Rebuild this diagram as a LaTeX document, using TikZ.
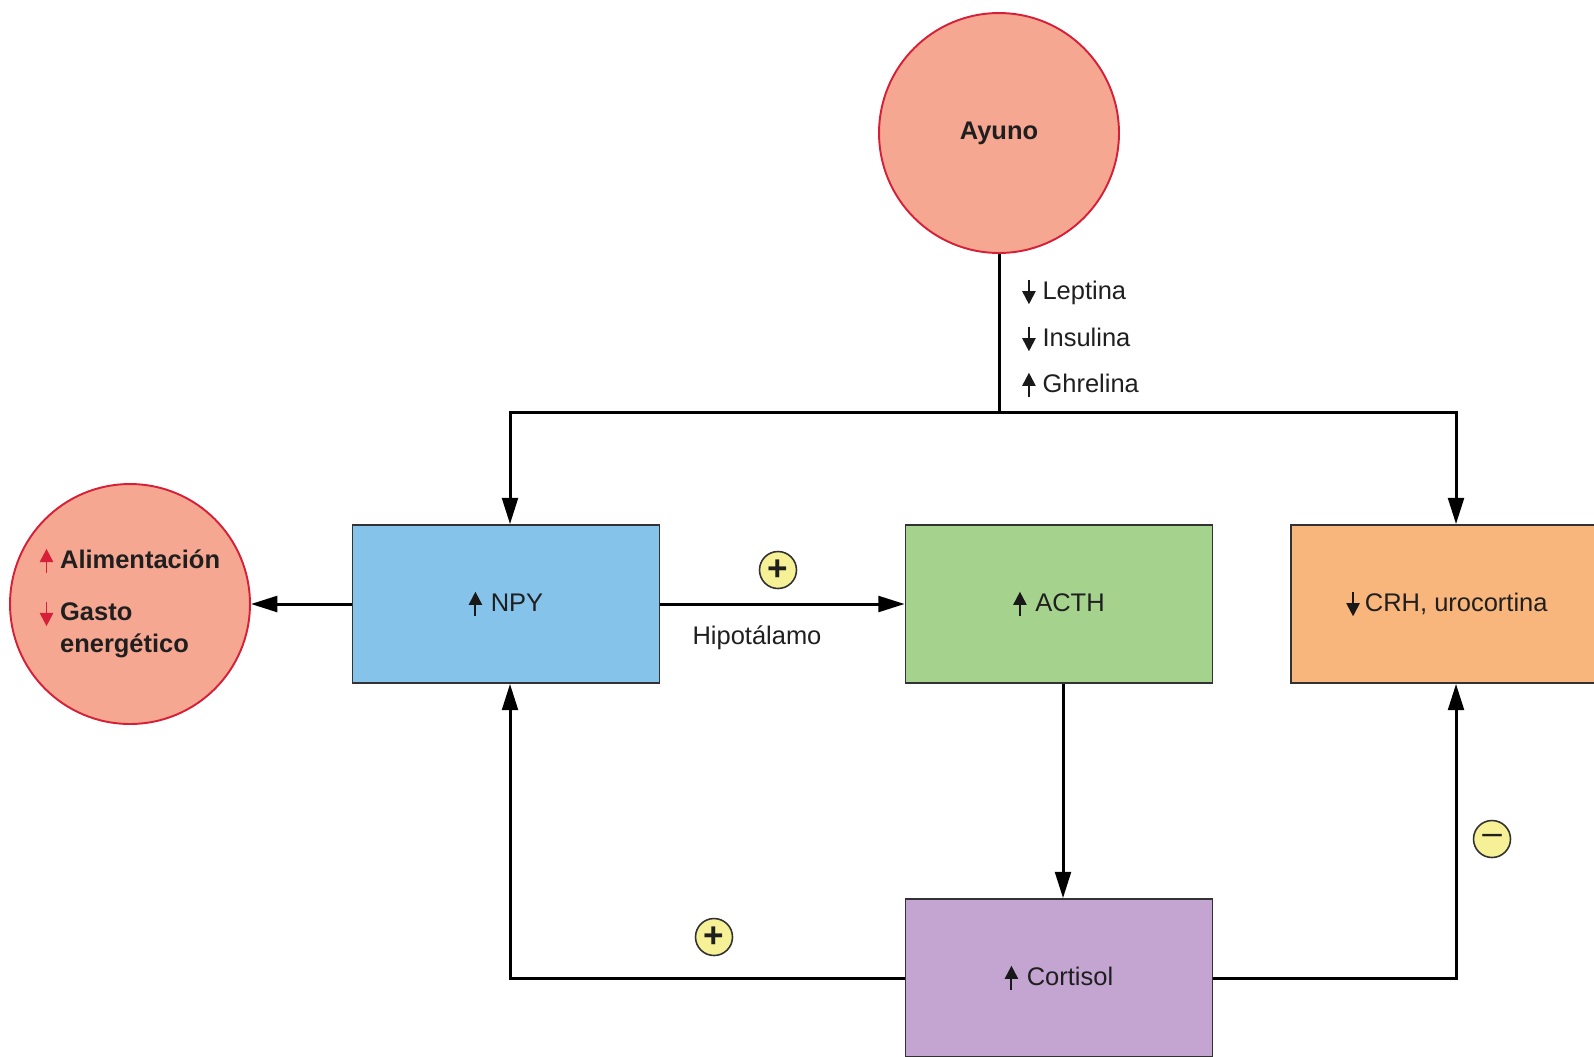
\documentclass[tikz,border=0pt]{standalone}
\usepackage{fontspec}
\setmainfont{Liberation Sans}
\usetikzlibrary{arrows.meta,calc}
\definecolor{CircFill}{RGB}{245,167,146}
\definecolor{CircLine}{RGB}{214,32,56}
\definecolor{NpyFill} {RGB}{133,195,234}
\definecolor{ActhFill}{RGB}{165,211,141}
\definecolor{CrhFill} {RGB}{249,182,124}
\definecolor{CortFill}{RGB}{196,165,209}
\definecolor{SignFill}{RGB}{246,241,150}
\definecolor{BoxLine} {RGB}{50,50,50}
\definecolor{ArrRed}  {RGB}{214,32,56}
\newcommand{\upar}[1][black!90]{\tikz[baseline=0pt]\draw[#1,line width=1.1pt,-{Triangle[length=7.5pt,width=7.5pt]}](0pt,-3pt)--(0pt,11pt);}
\newcommand{\dnar}[1][black!90]{\tikz[baseline=0pt]\draw[#1,line width=1.1pt,-{Triangle[length=7.5pt,width=7.5pt]}](0pt,11pt)--(0pt,-3pt);}
\tikzset{
  nd_circ/.style={circle,draw=CircLine,line width=1.1pt,fill=CircFill,minimum size=4.8cm,inner sep=0pt,font=\fontsize{14.5}{18}\selectfont\bfseries},
  nd_box/.style={rectangle,draw=BoxLine,line width=1pt,minimum width=6.14cm,minimum height=3.16cm,inner sep=0pt},
  nd_sign/.style={circle,draw=BoxLine,line width=0.9pt,fill=SignFill,minimum size=0.74cm,inner sep=0pt,font=\fontsize{20}{20}\selectfont},
  arr/.style={-{Triangle[length=15pt,width=9pt]},line width=1.7pt},
  lbl/.style={inner sep=0pt},
}
\begin{document}
\begin{tikzpicture}[x=0.02cm,y=-0.02cm,font=\fontsize{14.5}{18}\selectfont,text=black!88]

\useasboundingbox (0,0) rectangle (1594,1056);
\clip (0,0) rectangle (1594,1056);

% circles
\node[nd_circ] at (999,133) (ayuno){Ayuno};
\node[nd_circ] at (130,604) (gasto){\begin{tabular}{@{}l@{\hspace{4pt}}l@{}}
  \upar[ArrRed] & Alimentación\\[12pt]
  \dnar[ArrRed] & Gasto\\
                & energético
  \end{tabular}};

% boxes
\node[nd_box,fill=NpyFill]  at (506,604)  (npy){\upar\hspace{5pt}NPY};
\node[nd_box,fill=ActhFill] at (1059,604) (acth){\upar\hspace{5pt}ACTH};
\node[nd_box,fill=CrhFill,minimum width=6.24cm] at (1447,604) (crh){\dnar\hspace{3pt}CRH, urocortina};
\node[nd_box,fill=CortFill] at (1059,978) (cort){\upar\hspace{5pt}Cortisol};

% labels
\node[lbl,anchor=west] at (1022,292) (lep){\dnar\hspace{4pt}Leptina};
\node[lbl,anchor=west] at (1022,339) (ins){\dnar\hspace{4pt}Insulina};
\node[lbl,anchor=west] at (1022,385) (ghr){\upar\hspace{4pt}Ghrelina};
\node[lbl] at (757,638) (hip){Hipotálamo};
\node[nd_sign] at (778,570)  (s1){\textbf{+}};
\node[nd_sign] at (714,937)  (s2){\textbf{+}};
\node[nd_sign] at (1492,839) (s3){\raisebox{-3pt}{–}};

% connectors
\coordinate (jn) at (999,412);
\draw[line width=1.7pt](ayuno.south)--(jn);
\draw[arr](jn)-|($(npy.north)+(4,0)$);
\draw[arr](jn)-|($(crh.north)+(9,0)$);
\draw[arr](npy.west)--(gasto.east);
\draw[arr](npy.east)--(acth.west);
\draw[arr]($(acth.south)+(4,0)$)--($(cort.north)+(4,0)$);
\draw[arr](cort.west)-|($(npy.south)+(4,0)$);
\draw[arr](cort.east)-|($(crh.south)+(9,0)$);

\end{tikzpicture}
\end{document}
